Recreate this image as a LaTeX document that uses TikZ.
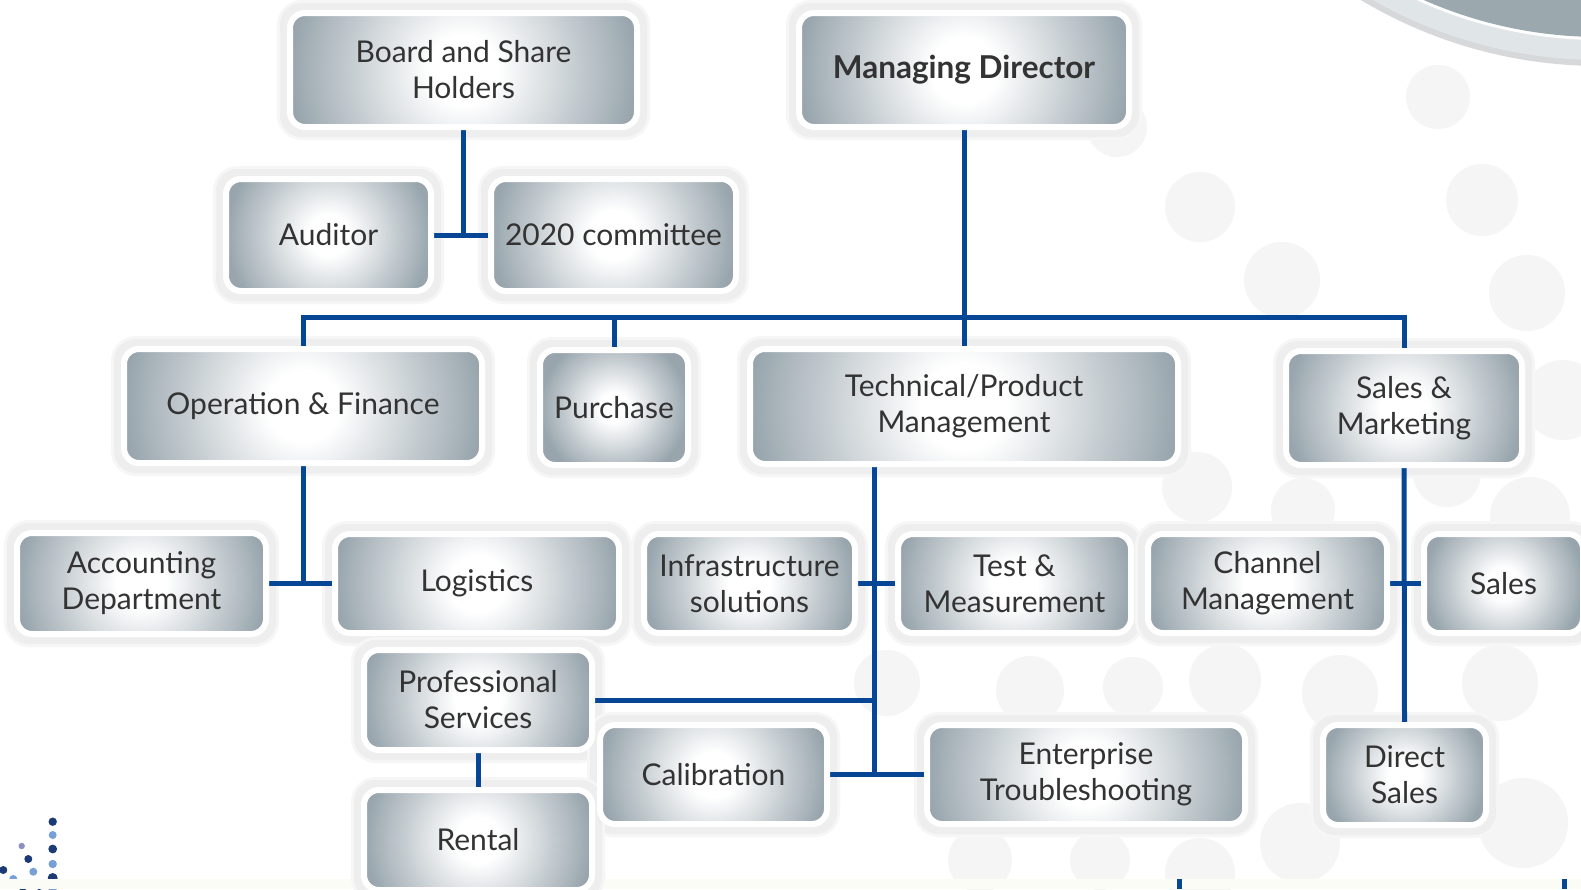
\documentclass[tikz,border=0pt]{standalone}
\usepackage{fontspec}
\setmainfont{Lato}
\usetikzlibrary{calc}
\definecolor{boxgray}{RGB}{152,165,173}
\definecolor{linkblue}{RGB}{6,70,148}
\definecolor{txt}{RGB}{51,51,51}
\definecolor{faint}{RGB}{245,245,245}
\definecolor{halo1}{RGB}{238,238,238}
\definecolor{halo2}{RGB}{246,246,246}
\definecolor{discgray}{RGB}{155,168,174}
\definecolor{discring}{RGB}{224,229,232}
\definecolor{discshadow}{RGB}{214,216,218}
\definecolor{dotdark}{RGB}{28,58,118}
\definecolor{dotlight}{RGB}{120,160,214}
\definecolor{dotpurple}{RGB}{140,143,192}
\definecolor{bottomtint}{RGB}{252,252,247}
\pgfdeclareradialshading{boxshade}{\pgfpointorigin}{color(0bp)=(white); color(5bp)=(white); color(25bp)=(boxgray); color(50bp)=(boxgray)}
\pgfdeclarelayer{back}
\pgfdeclarelayer{background}
\pgfsetlayers{back,background,main}
\tikzset{
  orgbox/.style n args={2}{
    rectangle, rounded corners=15pt, draw=white, line width=6pt,
    minimum width=#1+6, minimum height=#2+6, inner sep=0pt,
    align=center, text=txt, font=\fontsize{30}{36}\selectfont,
    path picture={
      \fill[boxgray] (path picture bounding box.south west) rectangle (path picture bounding box.north east);
      \shade[shading=boxshade] let \p1=(path picture bounding box.west), \p2=(path picture bounding box.east) in
        (path picture bounding box.center) circle [radius={0.5*(\x2-\x1)}];
    }
  },
  link/.style={draw=linkblue, line width=5pt},
  halo/.style={rounded corners=15pt, line width=#1},
  faintdisc/.style={fill=faint}
}
\begin{document}
\begin{tikzpicture}[x=1pt,y=-1pt]
\useasboundingbox (0,0) rectangle (1581,889);
\begin{pgfonlayer}{back}
  \fill[white] (0,0) rectangle (1581,889);
  % faint background discs
  \foreach \cx/\cy/\r in {1117/127/30, 1200/207/35, 1438/97/32, 1482/200/36, 1282/280/38, 1527/293/38,
      1197/487/35, 1563/400/40, 1447/473/34, 1530/517/40, 1303/510/32, 887/683/33, 1133/687/30,
      1340/693/38, 1300/843/40, 1523/823/45, 1200/873/35, 1030/690/34, 1225/680/36, 1500/683/38,
      1100/860/30, 980/860/32}
    \fill[faintdisc] (\cx,\cy) circle (\r);
  % large disc top right
  \fill[discshadow] (1600,-400) circle (466);
  \fill[discring] (1600,-400) circle (460);
  \fill[white] (1600,-400) circle (440);
  \fill[discgray] (1600,-400) circle (437);
  % dots bottom left
  \foreach \dx/\dy/\r/\c in {52.7/821.7/4.2/dotdark, 52.7/835/4/dotlight, 52.7/849/4.4/dotdark,
      52.7/864/4.2/dotlight, 52.7/878/5/dotdark, 52.7/891/4.5/dotlight,
      21.7/846/3.2/dotpurple, 28.3/859/4/dotdark, 33.3/871.7/4/dotlight, 39.3/885/5/dotdark,
      3.3/870/4/dotdark, 13.3/879/4/dotlight, 22.7/887/4/dotdark}
    \fill[\c] (\dx,\dy) circle (\r);
  % bottom strip
  \fill[bottomtint] (0,879) rectangle (1581,889);
  \draw[link] (1179,879) -- (1179,889);
  \draw[link] (1564,879) -- (1564,889);
\end{pgfonlayer}

% nodes
\node[orgbox={341}{108}] (board) at (463.5,70) {Board and Share\\Holders};
\node[orgbox={324}{108}, font=\fontsize{31.5}{36}\selectfont\bfseries] (md) at (964,70) {Managing Director};
\node[orgbox={199}{106}] (auditor) at (328.5,235) {Auditor};
\node[orgbox={239}{106}] (committee) at (613.5,235) {2020 committee};
\node[orgbox={352}{108}] (opfin) at (303,406) {Operation \& Finance};
\node[orgbox={142}{109}] (purchase) at (614,407.5) {Purchase};
\node[orgbox={422}{109}] (tpm) at (964,406.5) {Technical/Product\\Management};
\node[orgbox={230}{108}] (salesmkt) at (1404,408) {Sales \&\\Marketing};
\node[orgbox={243}{95}] (accounting) at (141.5,583.5) {Accounting\\Department};
\node[orgbox={278}{93}] (logistics) at (477,583.5) {Logistics};
\node[orgbox={205}{93}] (infra) at (749.5,583.5) {Infrastructure\\solutions};
\node[orgbox={227}{93}] (testmeas) at (1014.5,583.5) {Test \&\\Measurement};
\node[orgbox={233}{93}] (channel) at (1267.5,583.5) {Channel\\Management};
\node[orgbox={153}{93}] (sales) at (1503.5,583.5) {Sales};
\node[orgbox={222}{94}] (profserv) at (478,700) {Professional\\Services};
\node[orgbox={221}{93}] (calibration) at (713.5,774.5) {Calibration};
\node[orgbox={312}{93}] (enterprise) at (1086,774.5) {Enterprise\\Troubleshooting};
\node[orgbox={157}{94}] (directsales) at (1404.5,775) {Direct\\Sales};
\node[orgbox={222}{94}] (rental) at (478,840) {Rental};

% soft halo round each box, beneath the connectors
\begin{pgfonlayer}{back}
  \foreach \n in {board,md,auditor,committee,opfin,purchase,tpm,salesmkt,accounting,logistics,
      infra,testmeas,channel,sales,profserv,calibration,enterprise,directsales,rental}{
    \draw[halo2, halo=20pt] (\n.south west) rectangle (\n.north east);
    \draw[halo1, halo=14pt] (\n.south west) rectangle (\n.north east);
  }
\end{pgfonlayer}

\coordinate (bus) at (0,317);
\coordinate (tpx) at (874,0);

\begin{pgfonlayer}{background}
  \draw[link] (board.south) -- (board.south |- auditor.east);
  \draw[link] (auditor.east) -- (committee.west);
  \draw[link] (md.south) -- (tpm.north);
  \draw[link, line join=miter] (opfin.north) -- (opfin.north |- bus) -- (salesmkt.north |- bus) -- (salesmkt.north);
  \draw[link] (purchase.north) -- (purchase.north |- bus);
  \draw[link] (opfin.south) -- (opfin.south |- accounting.east);
  \draw[link] (accounting.east) -- (logistics.west);
  \draw[link] (tpm.south -| tpx) -- (calibration.east -| tpx);
  \draw[link] (infra.east) -- (testmeas.west);
  \draw[link] (profserv.east) -- (profserv.east -| tpx);
  \draw[link] (calibration.east) -- (enterprise.west);
  \draw[link] (salesmkt.south) -- (directsales.north);
  \draw[link] (channel.east) -- (sales.west);
  \draw[link] (profserv.south) -- (rental.north);
\end{pgfonlayer}
\end{tikzpicture}
\end{document}
